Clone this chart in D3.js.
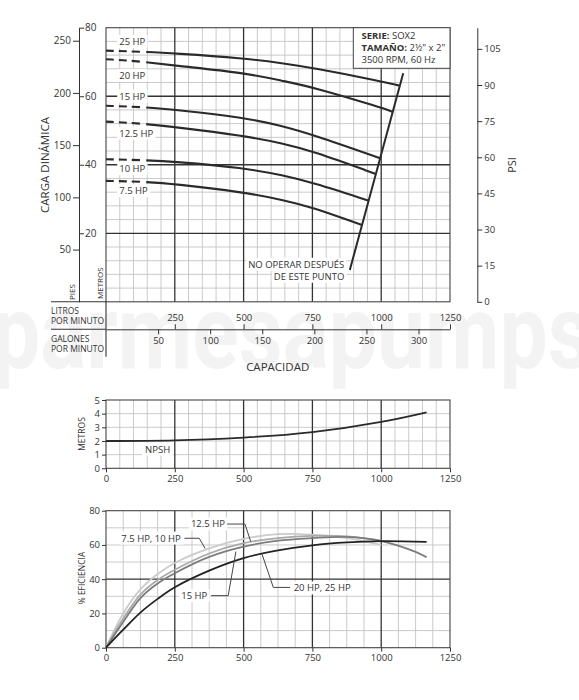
<!DOCTYPE html>
<html>
<head>
<meta charset="utf-8">
<script src="https://cdn.jsdelivr.net/npm/d3@7"></script>
<style>
  body { margin: 0; background: #fff; }
  text { font-family: "Open Sans", "Noto Sans", sans-serif; fill: #333; }
</style>
</head>
<body>
<svg id="chart" width="579" height="700"></svg>
<script>
// ---- data (flow in L/min, head in metres, NPSH in metres, efficiency in %) ----
const hpLabels = ["25 HP", "20 HP", "15 HP", "12.5 HP", "10 HP", "7.5 HP"];
const flow25 = [0, 125, 250, 500, 645, 750, 1000, 1065];
const head25 = [73.3, 73.0, 72.5, 71.1, 69.6, 68.3, 64.4, 63.1];
const flow20 = [0, 125, 250, 500, 645, 750, 1000, 1040];
const head20 = [70.8, 70.2, 68.9, 66.9, 64.4, 62.7, 56.7, 55.5];
const flow15 = [0, 125, 250, 500, 636, 750, 996];
const head15 = [57.2, 56.9, 56.1, 53.8, 51.4, 48.8, 41.9];
const flow125 = [0, 125, 250, 500, 645, 750, 978];
const head125 = [52.6, 52.1, 51.0, 48.5, 46.2, 44.0, 37.4];
const flow10 = [0, 125, 250, 500, 645, 750, 952];
const head10 = [41.6, 41.4, 40.9, 39.1, 36.9, 34.8, 29.6];
const flow75 = [0, 125, 250, 500, 645, 750, 930];
const head75 = [35.3, 35.1, 34.4, 32.0, 29.7, 27.6, 22.4];
const limitFlow = [886, 1080];
const limitHead = [9.3, 66.7];

const npshFlow = [0, 250, 500, 750, 1000, 1165];
const npshM = [2.0, 2.05, 2.25, 2.65, 3.4, 4.1];

const effFlowA = [0, 62.5, 125, 187.5, 250, 375, 500, 625, 750, 875, 1000];
const eff75_10 = [0, 20, 34, 43, 49.5, 58, 63.5, 66.3, 66.0, 64.0, 60.0];
const eff125 = [0, 17, 31, 39.5, 45.5, 55, 61, 64, 65.3, 65.0, 62.5];
const effFlowB = [0, 62.5, 125, 187.5, 250, 375, 500, 625, 750, 875, 1000, 1125, 1165];
const eff15 = [0, 15, 29, 37.5, 43.5, 53, 59, 62.5, 64, 64.7, 62.3, 56, 52.8];
const effFlowC = [0, 62.5, 125, 187.5, 250, 375, 500, 625, 750, 875, 1000, 1165];
const eff20_25 = [0, 10.5, 20.5, 28.5, 35.3, 45, 52.3, 56.8, 59.8, 61.5, 62.2, 61.8];

const litreTicks = [250, 500, 750, 1000, 1250];
const gallonTicks = [50, 100, 150, 200, 250, 300];
const feetTicks = [50, 100, 150, 200, 250];
const metreTicks = [20, 40, 60, 80];
const psiTicks = [0, 15, 30, 45, 60, 75, 90, 105];
const flowTicks = [0, 250, 500, 750, 1000, 1250];

const svg = d3.select("#chart");
const fmt = d3.format("d");

// scales
const x = d3.scaleLinear().domain([0, 1250]).range([106, 450]);
const xGal = d3.scaleLinear().domain([0, 1250 / 3.78541]).range([106, 450]);
const yM = d3.scaleLinear().domain([0, 80]).range([301.8, 27.7]);
const yFt = d3.scaleLinear().domain([0, 80 * 3.28084]).range([301.8, 27.7]);
const yPsi = d3.scaleLinear().domain([0, 80 / 0.70307]).range([301.8, 27.7]);
const yN = d3.scaleLinear().domain([0, 5]).range([468.3, 400]);
const yE = d3.scaleLinear().domain([0, 80]).range([647.7, 510.7]);

// watermark
svg.append("text")
  .attr("x", -8).attr("y", 368)
  .attr("textLength", 600).attr("lengthAdjust", "spacingAndGlyphs")
  .style("font-family", "Roboto, sans-serif").style("font-weight", 700)
  .style("font-size", "104px").style("fill", "#f3f3f3")
  .text("parmesapumps");

function grid(yScale, vStep, hValues, hMajor) {
  const g = svg.append("g");
  const [yb, yt] = yScale.range();
  const vAll = d3.range(0, 1250 + 0.01, vStep);
  g.selectAll(null).data(vAll.filter(v => v % 250 !== 0)).join("line")
    .attr("x1", d => x(d)).attr("x2", d => x(d)).attr("y1", yt).attr("y2", yb)
    .attr("stroke", "#c4c4c4").attr("stroke-width", 0.9);
  g.selectAll(null).data(hValues.filter(v => !hMajor.includes(v))).join("line")
    .attr("x1", x(0)).attr("x2", x(1250)).attr("y1", d => yScale(d)).attr("y2", d => yScale(d))
    .attr("stroke", "#c4c4c4").attr("stroke-width", 0.9);
  g.selectAll(null).data([250, 500, 750, 1000]).join("line")
    .attr("x1", d => x(d)).attr("x2", d => x(d)).attr("y1", yt).attr("y2", yb)
    .attr("stroke", "#333").attr("stroke-width", 1.3);
  g.selectAll(null).data(hMajor).join("line")
    .attr("x1", x(0)).attr("x2", x(1250)).attr("y1", d => yScale(d)).attr("y2", d => yScale(d))
    .attr("stroke", "#333").attr("stroke-width", 1.3);
  g.append("rect").attr("x", x(0)).attr("y", yt).attr("width", x(1250) - x(0)).attr("height", yb - yt)
    .attr("fill", "none").attr("stroke", "#444").attr("stroke-width", 1.1);
}

function label(txt, px, py, anchor, size, pad) {
  const g = svg.append("g");
  const t = g.append("text").attr("x", px).attr("y", py).attr("dy", "0.35em")
    .attr("text-anchor", anchor || "start").style("font-size", (size || 10) + "px").text(txt);
  const b = t.node().getBBox();
  const p = pad == null ? 2 : pad;
  g.insert("rect", "text").attr("x", b.x - p).attr("y", b.y).attr("width", b.width + 2 * p)
    .attr("height", b.height).attr("fill", "#fff");
  return g;
}

function styleAxis(g, size) {
  g.selectAll("path").attr("stroke", "#333");
  g.selectAll("line").attr("stroke", "#333");
  g.selectAll("text").style("font-size", size + "px").attr("fill", "#333")
    .style("font-family", '"Open Sans", sans-serif');
}

// ---------- head chart ----------
grid(yM, 50, d3.range(4, 80, 4), [20, 40, 60]);

const lineH = d3.line().x(d => x(d[0])).y(d => yM(d[1])).curve(d3.curveBasis);
const headSets = [[flow25, head25], [flow20, head20], [flow15, head15], [flow125, head125], [flow10, head10], [flow75, head75]];
headSets.forEach(([f, h]) => {
  // dashed for the first 125 L/min, then solid
  svg.append("path").attr("d", lineH(f.map((v, i) => [v, h[i]])))
    .attr("fill", "none").attr("stroke", "#2a2a2a").attr("stroke-width", 2.1)
    .attr("stroke-dasharray", "8,5,8,5,8,6.5,10000");
});

svg.append("path")
  .attr("d", d3.line().x(d => x(d[0])).y(d => yM(d[1]))(limitFlow.map((v, i) => [v, limitHead[i]])))
  .attr("stroke", "#2a2a2a").attr("stroke-width", 2).attr("fill", "none");

const hpLabelHead = [75.9, 66.0, 60.0, 49.2, 38.8, 32.4];
hpLabels.forEach((t, i) => label(t, x(48), yM(hpLabelHead[i]), "start", 9.5, 2));

label("NO OPERAR DESPUÉS", x(866), yM(10.9), "end", 9.5, 2);
label("DE ESTE PUNTO", x(866), yM(7.4), "end", 9.5, 2);

// info box
const box = svg.append("g");
box.append("rect").attr("x", 353.3).attr("y", 27.7).attr("width", 96.7).attr("height", 40.6)
  .attr("fill", "#fff").attr("stroke", "#444").attr("stroke-width", 1);
const t1 = box.append("text").attr("x", 361.5).attr("y", 39).style("font-size", "9.5px");
t1.append("tspan").style("font-weight", 700).text("SERIE:");
t1.append("tspan").text(" SOX2");
const t2 = box.append("text").attr("x", 361.5).attr("y", 51).style("font-size", "9.5px");
t2.append("tspan").style("font-weight", 700).text("TAMAÑO:");
t2.append("tspan").text(" 2½\" x 2\"");
box.append("text").attr("x", 361.5).attr("y", 63).style("font-size", "9.5px").text("3500 RPM, 60 Hz");

// left axes (feet / metres)
const axFt = svg.append("g").attr("transform", "translate(79,0)")
  .call(d3.axisLeft(yFt).tickValues(feetTicks).tickFormat(fmt).tickSize(6).tickSizeOuter(0).tickPadding(2));
styleAxis(axFt, 10);
const axM = svg.append("g").attr("transform", "translate(79,0)")
  .call(d3.axisRight(yM).tickValues(metreTicks).tickFormat(fmt).tickSize(5).tickSizeOuter(0).tickPadding(1));
axM.select(".domain").remove();
styleAxis(axM, 10);

svg.append("line").attr("x1", 51).attr("x2", 106).attr("y1", 301.8).attr("y2", 301.8)
  .attr("stroke", "#333").attr("stroke-width", 1.1);

svg.append("text").attr("transform", "translate(75,300) rotate(-90)").style("font-size", "8px").text("PIES");
svg.append("text").attr("transform", "translate(103,299) rotate(-90)").style("font-size", "8px").text("METROS");
svg.append("text").attr("transform", "translate(45,165) rotate(-90)").attr("dy", "0.35em")
  .attr("text-anchor", "middle").style("font-size", "11.5px").text("CARGA DINÁMICA");

// psi axis
const axP = svg.append("g").attr("transform", "translate(477.3,0)")
  .call(d3.axisRight(yPsi).tickValues(psiTicks).tickFormat(fmt).tickSize(5).tickSizeOuter(0).tickPadding(2));
styleAxis(axP, 9.5);
svg.append("text").attr("transform", "translate(511.7,165) rotate(-90)").attr("dy", "0.35em")
  .attr("text-anchor", "middle").style("font-size", "11px").text("PSI");

// capacity axes
svg.append("line").attr("x1", 106).attr("x2", 106).attr("y1", 301.8).attr("y2", 356.7)
  .attr("stroke", "#333").attr("stroke-width", 1.1);
svg.append("line").attr("x1", 51).attr("x2", 106).attr("y1", 329.3).attr("y2", 329.3)
  .attr("stroke", "#333").attr("stroke-width", 1.1);
const axL = svg.append("g").attr("transform", "translate(0,329.3)")
  .call(d3.axisTop(x).tickValues(litreTicks).tickFormat(fmt).tickSize(5).tickSizeOuter(0).tickPadding(3));
styleAxis(axL, 9.5);
const axG = svg.append("g").attr("transform", "translate(0,329.3)")
  .call(d3.axisBottom(xGal).tickValues(gallonTicks).tickFormat(fmt).tickSize(5).tickSizeOuter(0).tickPadding(3));
axG.select(".domain").remove();
styleAxis(axG, 9.5);

[["LITROS", 311], ["POR MINUTO", 321.5], ["GALONES", 339], ["POR MINUTO", 349.5]].forEach(([t, yy]) =>
  svg.append("text").attr("x", 51).attr("y", yy).attr("dy", "0.35em").style("font-size", "8.5px").text(t));

svg.append("text").attr("x", 277.7).attr("y", 367).attr("dy", "0.35em").attr("text-anchor", "middle")
  .style("font-size", "11.5px").text("CAPACIDAD");

// ---------- NPSH chart ----------
grid(yN, 50, [1, 2, 3, 4], []);
svg.append("path")
  .attr("d", d3.line().x(d => x(d[0])).y(d => yN(d[1])).curve(d3.curveNatural)(npshFlow.map((v, i) => [v, npshM[i]])))
  .attr("fill", "none").attr("stroke", "#2a2a2a").attr("stroke-width", 1.8);
label("NPSH", x(142), yN(1.4), "start", 9.5, 3);
const axNy = svg.append("g").attr("transform", "translate(106,0)")
  .call(d3.axisLeft(yN).tickValues([0, 1, 2, 3, 4, 5]).tickFormat(fmt).tickSize(4).tickSizeOuter(0).tickPadding(2));
axNy.select(".domain").remove();
styleAxis(axNy, 9.5);
const axNx = svg.append("g").attr("transform", "translate(0,468.3)")
  .call(d3.axisBottom(x).tickValues(flowTicks).tickFormat(fmt).tickSize(4).tickSizeOuter(0).tickPadding(3));
axNx.select(".domain").remove();
styleAxis(axNx, 9.5);
svg.append("text").attr("transform", "translate(81.7,434) rotate(-90)").attr("dy", "0.35em")
  .attr("text-anchor", "middle").style("font-size", "8.5px").attr("fill", "#555").text("METROS");

// ---------- efficiency chart ----------
grid(yE, 62.5, [10, 20, 30, 40, 50, 60, 70], [40]);
const lineE = d3.line().x(d => x(d[0])).y(d => yE(d[1])).curve(d3.curveCatmullRom.alpha(0.5));
const effSets = [
  [effFlowA, eff75_10, "#cbcbcb"],
  [effFlowA, eff125, "#a9a9a9"],
  [effFlowB, eff15, "#7c7c7c"],
  [effFlowC, eff20_25, "#222"]
];
effSets.forEach(([f, e, c]) => {
  svg.append("path").attr("d", lineE(f.map((v, i) => [v, e[i]])))
    .attr("fill", "none").attr("stroke", c).attr("stroke-width", 1.8);
});

const leader = pts => svg.append("path")
  .attr("d", d3.line().x(d => x(d[0])).y(d => yE(d[1]))(pts))
  .attr("fill", "none").attr("stroke", "#444").attr("stroke-width", 1);

label("12.5 HP", x(432), yE(72.2), "end", 9.5, 2);
leader([[440, 72.2], [505, 72.2], [526, 61.9]]);
label("7.5 HP, 10 HP", x(272), yE(63.9), "end", 9.5, 2);
leader([[285, 63.9], [339, 63.9], [360, 58.0]]);
label("15 HP", x(368), yE(30.4), "end", 9.5, 2);
leader([[382, 30.4], [444, 30.4], [472, 56.1]]);
label("20 HP, 25 HP", x(682), yE(34.8), "start", 9.5, 2);
leader([[566, 55.1], [608, 35.2], [669, 35.2]]);

const axEy = svg.append("g").attr("transform", "translate(106,0)")
  .call(d3.axisLeft(yE).tickValues([0, 20, 40, 60, 80]).tickFormat(fmt).tickSize(4).tickSizeOuter(0).tickPadding(2));
axEy.select(".domain").remove();
styleAxis(axEy, 9.5);
const axEx = svg.append("g").attr("transform", "translate(0,647.7)")
  .call(d3.axisBottom(x).tickValues(flowTicks).tickFormat(fmt).tickSize(4).tickSizeOuter(0).tickPadding(3));
axEx.select(".domain").remove();
styleAxis(axEx, 9.5);
svg.append("text").attr("transform", "translate(81.7,578) rotate(-90)").attr("dy", "0.35em")
  .attr("text-anchor", "middle").style("font-size", "8.5px").attr("fill", "#555").text("% EFICIENCIA");
</script>
</body>
</html>
